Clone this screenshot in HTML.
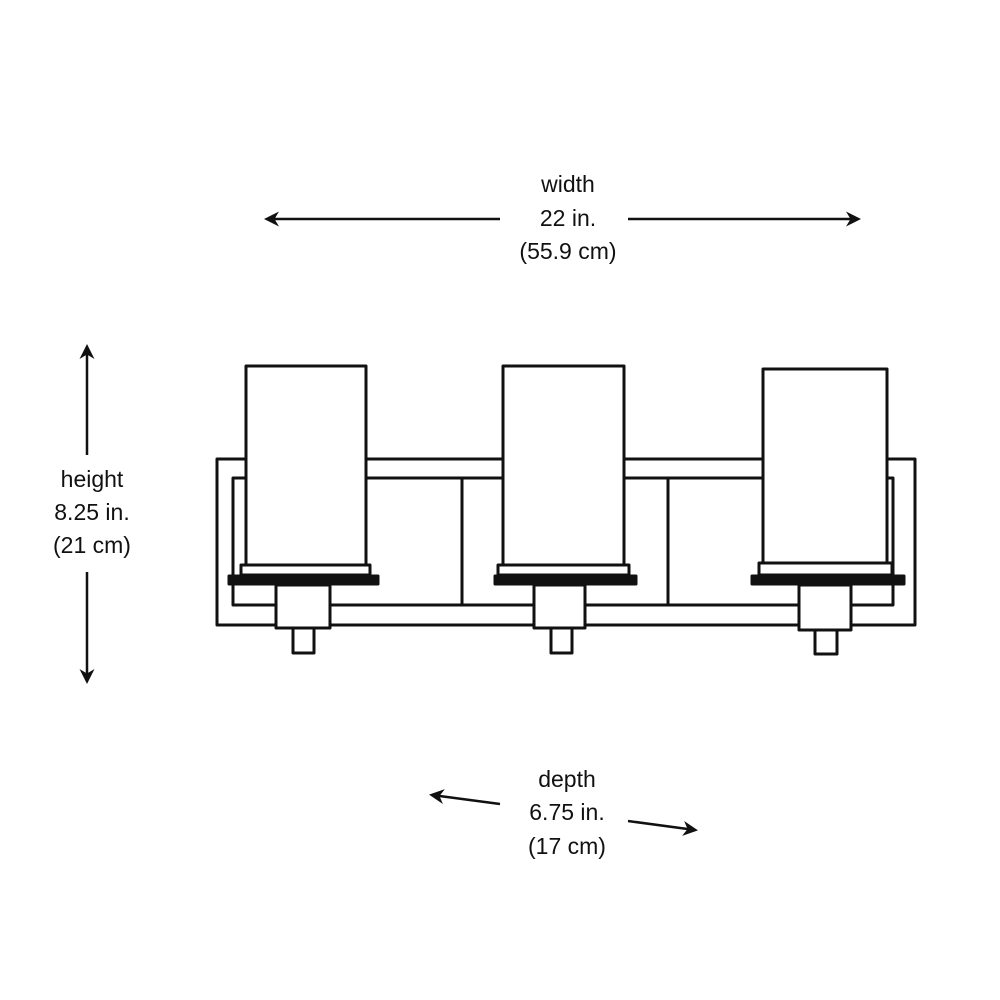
<!DOCTYPE html>
<html><head><style>
html,body{margin:0;padding:0;background:#fff;}
svg{display:block;}
text{font-family:"Liberation Sans",sans-serif;font-size:23px;fill:#111;text-anchor:middle;}
</style></head><body>
<svg width="1000" height="1000" viewBox="0 0 1000 1000">
<defs>
<marker id="ah" viewBox="0 0 10 10" refX="8" refY="5" markerWidth="6" markerHeight="6" orient="auto-start-reverse" markerUnits="strokeWidth">
<path d="M0,0 L10,5 L0,10 L3,5 z" fill="#111"/>
</marker>
</defs>
<g stroke="#111" stroke-width="2.5" fill="none">
<line x1="500" y1="219" x2="267" y2="219" marker-end="url(#ah)"/>
<line x1="628" y1="219" x2="858" y2="219" marker-end="url(#ah)"/>
<line x1="87" y1="455" x2="87" y2="347" marker-end="url(#ah)"/>
<line x1="87" y1="572" x2="87" y2="681" marker-end="url(#ah)"/>
<line x1="500" y1="804" x2="432" y2="795" marker-end="url(#ah)"/>
<line x1="628" y1="821" x2="695" y2="830" marker-end="url(#ah)"/>
</g>
<text x="568" y="192">width</text>
<text x="568" y="226">22 in.</text>
<text x="568" y="259">(55.9 cm)</text>
<text x="92" y="487">height</text>
<text x="92" y="520">8.25 in.</text>
<text x="92" y="553">(21 cm)</text>
<text x="567" y="787">depth</text>
<text x="567" y="820">6.75 in.</text>
<text x="567" y="854">(17 cm)</text>
<g stroke="#111" stroke-width="3" fill="#fff" stroke-linejoin="round">
<rect x="217" y="459" width="698" height="166"/>
<rect x="233" y="478" width="660" height="127"/>
<line x1="462" y1="478" x2="462" y2="605"/>
<line x1="668" y1="478" x2="668" y2="605"/>
<rect x="246" y="366" width="120" height="199"/>
<rect x="241" y="565" width="129" height="10"/>
<rect x="229" y="576" width="149" height="8" fill="#111"/>
<rect x="276" y="585" width="54" height="43"/>
<rect x="293" y="628" width="21" height="25"/>
<rect x="503" y="366" width="121" height="199"/>
<rect x="498" y="565" width="131" height="10"/>
<rect x="495" y="576" width="141" height="8" fill="#111"/>
<rect x="534" y="585" width="51" height="43"/>
<rect x="551" y="628" width="21" height="25"/>
<rect x="763" y="369" width="124" height="194"/>
<rect x="759" y="563" width="133" height="12"/>
<rect x="752" y="576" width="152" height="8" fill="#111"/>
<rect x="799" y="585" width="52" height="45"/>
<rect x="815" y="630" width="22" height="24"/>
</g>
</svg>
</body></html>
